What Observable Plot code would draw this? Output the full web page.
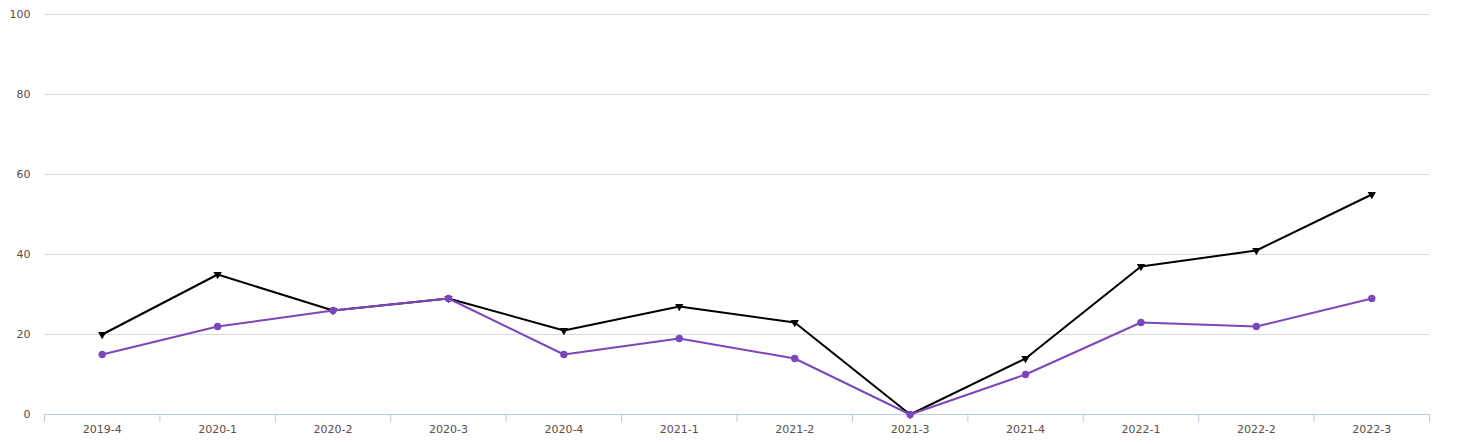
<!DOCTYPE html>
<html>
<head>
<meta charset="utf-8">
<script src="https://cdn.jsdelivr.net/npm/d3@7"></script>
<script src="https://cdn.jsdelivr.net/npm/@observablehq/plot@0.6"></script>
<style>
body{margin:0;background:#fff;}
#chart svg{display:block;}
</style>
</head>
<body>
<div id="chart"></div>
<script>
const categories = ["2019-4","2020-1","2020-2","2020-3","2020-4","2021-1","2021-2","2021-3","2021-4","2022-1","2022-2","2022-3"];
const seriesBlack = [20,35,26,29,21,27,23,0,14,37,41,55];
const seriesPurple = [15,22,26,29,15,19,14,0,10,23,22,29];
const yTicks = [0,20,40,60,80,100];

const black = categories.map((c,i)=>({i, v: seriesBlack[i]}));
const purple = categories.map((c,i)=>({i, v: seriesPurple[i]}));
const bounds = d3.range(categories.length+1).map(k=>k-0.5);
const purpleColor = "#7b47ba";

const chart = Plot.plot({
  width: 1459,
  height: 444,
  marginLeft: 44,
  marginRight: 30,
  marginTop: 14,
  marginBottom: 30,
  style: {fontFamily: "DejaVu Sans, sans-serif", fontSize: "11px", color: "#5a4e48", background: "#fff"},
  x: {domain: [-0.5, categories.length-0.5]},
  y: {domain: [0,100]},
  marks: [
    Plot.gridY(yTicks.filter(t=>t>0), {stroke: "#d9d9d9", strokeOpacity: 1}),
    Plot.axisY(yTicks, {tickSize: 0, tickPadding: 14, label: null, fill: "#5a4e48"}),
    Plot.ruleY([0], {stroke: "#b9cce0", strokeWidth: 1}),
    Plot.axisX(bounds, {tickSize: 8, tickFormat: () => "", stroke: "#b9cce0", label: null}),
    Plot.axisX(d3.range(categories.length), {tickSize: 0, tickPadding: 11, tickFormat: i => categories[i], label: null, fill: "#5a4e48"}),
    Plot.line(black, {x: "i", y: "v", stroke: "#000", strokeWidth: 2}),
    Plot.dot(black, {x: "i", y: "v", symbol: "triangle", rotate: 180, r: 3.1, fill: "#000", stroke: "none"}),
    Plot.line(purple, {x: "i", y: "v", stroke: purpleColor, strokeWidth: 2}),
    Plot.dot(purple, {x: "i", y: "v", symbol: "circle", r: 3.7, fill: purpleColor, stroke: "none"})
  ]
});
document.getElementById("chart").appendChild(chart);
</script>
</body>
</html>
